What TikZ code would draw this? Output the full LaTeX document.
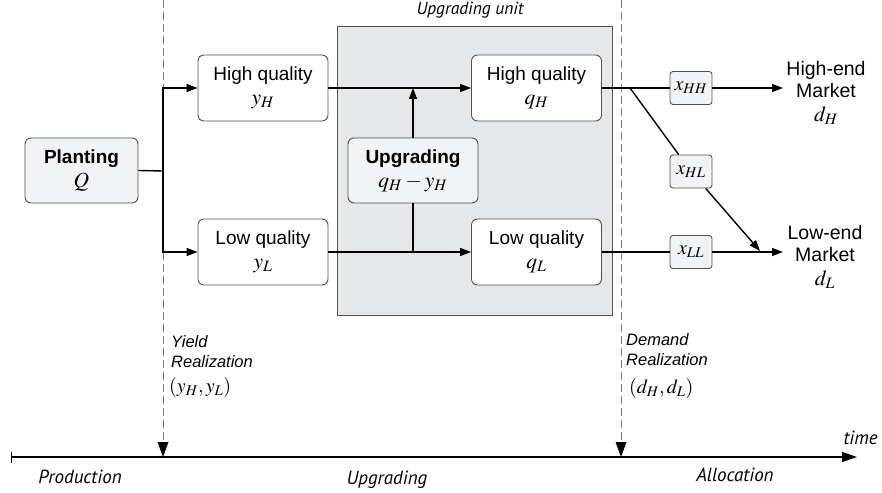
\documentclass[tikz,border=0pt]{standalone}
\usepackage{mathptmx}
\usepackage[no-math]{fontspec}
\setmainfont{Liberation Sans}
\newfontfamily\myr{PT Sans}
\usetikzlibrary{arrows.meta,calc}
\definecolor{boxc}{HTML}{505050}
\definecolor{lightf}{HTML}{F2F3F5}
\definecolor{unitf}{HTML}{E6E7E9}
\definecolor{dashc}{HTML}{808080}
\newcommand{\mymath}[1]{{\fontsize{21.5}{24}\selectfont$#1$}}
\begin{document}
\begin{tikzpicture}[x=1pt,y=-1pt,
  box/.style={draw=boxc, line width=0.9pt, rounded corners=6pt, fill=white,
    minimum width=130pt, minimum height=66pt, align=center, inner sep=0pt,
    font=\fontsize{19}{26}\selectfont},
  xbox/.style={draw=boxc, line width=0.9pt, rounded corners=3pt, fill=lightf,
    minimum width=42pt, minimum height=33pt, inner sep=0pt, font=\fontsize{20}{22}\selectfont},
  conn/.style={line width=1.4pt, black},
  arr/.style={conn, -{Triangle[length=11pt,width=8pt]}},
  dashline/.style={draw=dashc, line width=1pt, dash pattern=on 8pt off 4pt},
  ital/.style={font=\myr\itshape\fontsize{19}{22}\selectfont},
  lab/.style={font=\itshape\fontsize{16.5}{20}\selectfont, align=left, inner sep=0pt},
  mkt/.style={font=\fontsize{19.5}{22}\selectfont, align=center, inner sep=0pt}
]
\useasboundingbox (0,0) rectangle (882,492);

% upgrading unit
\node[draw=boxc, line width=0.9pt, fill=unitf, minimum width=275pt, minimum height=289pt, inner sep=0pt] (unit) at (474.5,170.5) {};
\node[font=\myr\itshape\fontsize{17.5}{20}\selectfont] (unitlab) at (470,10) {Upgrading unit};

% dashed timeline markers
\coordinate (d1t) at (163,0);
\coordinate (d1b) at (163,457);
\coordinate (d2t) at (621,0);
\coordinate (d2b) at (621,457);
\draw[dashline] (d1t) -- ($(d1b)+(0,-12)$);
\draw[dashline] (d2t) -- ($(d2b)+(0,-12)$);

% nodes
\node[box, fill=lightf, minimum width=113pt, minimum height=65pt] (plant) at (81.5,170.5)
  {\textbf{Planting}\\[-2pt]\mymath{Q}};
\node[box] (yH) at (263,88) {High quality\\[-2pt]\mymath{y_H}};
\node[box] (yL) at (263,252) {Low quality\\[-2pt]\mymath{y_L}};
\node[box] (qH) at (536.5,88) {High quality\\[-2pt]\mymath{q_H}};
\node[box] (qL) at (536.5,252) {Low quality\\[-2pt]\mymath{q_L}};
\node[box, fill=lightf, minimum height=65pt] (upg) at (413,170.5)
  {\textbf{Upgrading}\\[-2pt]\mymath{q_H-y_H}};

\node[xbox] (xHH) at (691,88) {$x_{HH}$};
\node[xbox] (xHL) at (691,171.5) {$x_{HL}$};
\node[xbox] (xLL) at (691,252) {$x_{LL}$};

\node[mkt] (hm) at (826,93) {High-end\\Market\\[2pt]\mymath{d_H}};
\node[mkt] (lm) at (825,257) {Low-end\\Market\\[2pt]\mymath{d_L}};

% connectors
\coordinate (split) at (163,171);
\draw[conn] (plant.east) -- (split);
\draw[arr] (split) |- (yH.west);
\draw[arr] (split) |- (yL.west);
\draw[arr] (yH) -- (qH);
\draw[arr] (yL) -- (qL);
\coordinate (uL) at (413,252);
\coordinate (uH) at (413,88);
\draw[conn] (uL) -- (upg);
\draw[arr] (upg) -- (uH);

\coordinate (hmin) at (783,88);
\coordinate (lmin) at (783,252);
\coordinate (br) at (630,88);
\coordinate (lmtip) at (760,251);
\draw[conn] (qH) -- (xHH);
\draw[arr] (xHH) -- (hmin);
\draw[conn] (qL) -- (xLL);
\draw[arr] (xLL) -- (lmin);
\draw[conn] (br) -- (xHL);
\draw[arr] (xHL) -- (lmtip);

% dashed arrow heads
\fill[black] ($(d1b)+(-5.5,-15)$) -- (d1b) -- ($(d1b)+(5.5,-15)$) -- cycle;
\fill[black] ($(d2b)+(-5.5,-15)$) -- (d2b) -- ($(d2b)+(5.5,-15)$) -- cycle;

% time axis
\coordinate (t0) at (11,457);
\coordinate (t1) at (857,457);
\draw[line width=1.3pt, {Bar[width=11pt]}-{Triangle[length=15pt,width=10pt]}] (t0) -- (t1);
\node[ital, anchor=west] (time) at (840,438) {time};
\node[ital] (prod) at (80,477) {Production};
\node[ital] (upgl) at (387,480) {Upgrading};
\node[ital] (alloc) at (735,475) {Allocation};

% realization labels
\node[lab, anchor=north west] (yr) at (171,335) {Yield\\Realization};
\node[inner sep=0pt, anchor=west, font=\fontsize{20}{22}\selectfont] (yrm) at (169,387) {$(y_H, y_L)$};
\node[lab, anchor=north west] (dr) at (626,333) {Demand\\Realization};
\node[inner sep=0pt, anchor=west, font=\fontsize{20}{22}\selectfont] (drm) at (629,388) {$(d_H, d_L)$};
\end{tikzpicture}
\end{document}
